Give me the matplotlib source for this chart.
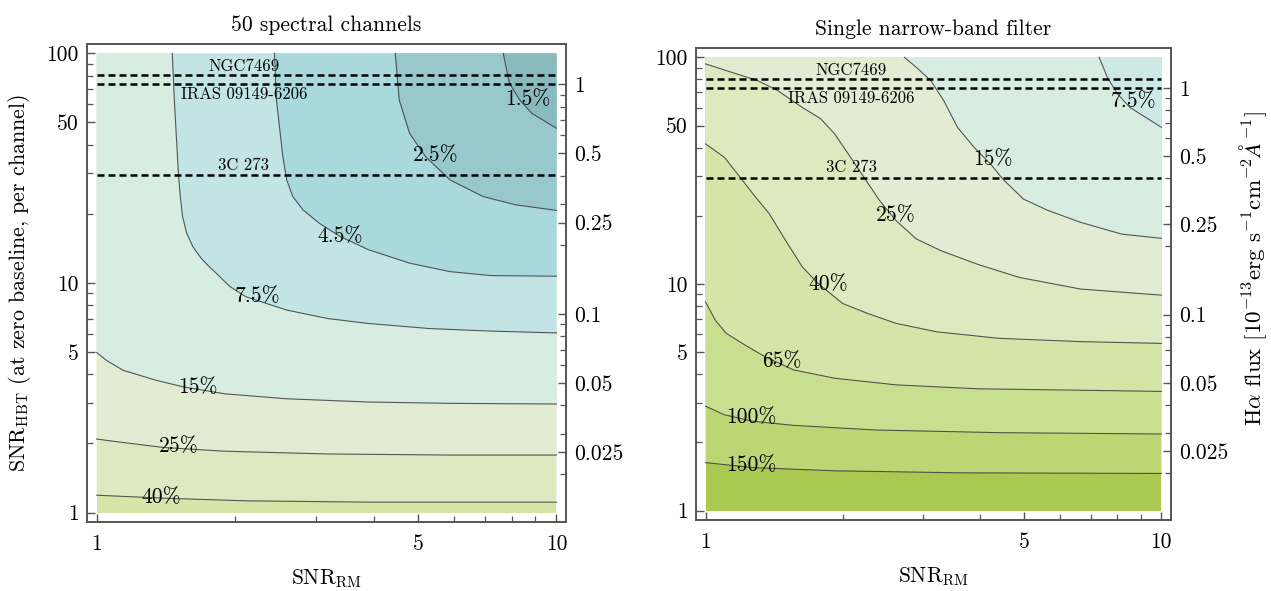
import matplotlib
matplotlib.use('Agg')
import matplotlib.pyplot as plt
from matplotlib.patches import Polygon
from matplotlib.ticker import NullFormatter

plt.rcParams['font.family'] = 'serif'
plt.rcParams['font.serif'] = ['cmr10', 'DejaVu Serif']
plt.rcParams['mathtext.fontset'] = 'cm'
plt.rcParams['axes.unicode_minus'] = False
plt.rcParams['axes.formatter.use_mathtext'] = True

# ---- data ----
# Halpha flux (1e-13 erg/s/cm2/A) that gives SNR_HBT = 1
FLUX_PER_SNR = 1 / 73.3

sources = ['NGC7469', 'IRAS 09149-6206', '3C 273']
source_snr = [80.5, 73.2, 29.4]
source_label_x = [2.09, 2.09, 2.09]
source_label_y = [88.0, 66.0, 32.6]

# left panel: 50 spectral channels
chan_levels = [1.5, 2.5, 4.5, 7.5, 15, 25, 40]
chan_curves = [
    ([7.66, 7.90, 8.32, 8.84, 10], [100, 74.2, 62.7, 54.8, 47.2]),
    ([4.46, 4.55, 4.79, 5.19, 5.87, 6.92, 8.15, 10],
     [100, 62.7, 44.9, 35.5, 28.1, 23.8, 21.9, 20.7]),
    ([2.436, 2.46, 2.54, 2.59, 2.67, 2.81, 3.05, 3.38, 3.90, 4.79, 5.87, 7.2, 10],
     [100, 62.7, 35.5, 28.1, 23.8, 20.8, 18.2, 15.96, 13.96, 12.2, 11.2, 10.77, 10.7]),
    ([1.46, 1.475, 1.506, 1.52, 1.537, 1.569, 1.618, 1.685, 1.755, 1.848, 1.944, 2.11,
      2.59, 3.18, 3.90, 5.3, 7.2, 10],
     [100, 62.7, 29.6, 23.8, 19.5, 16.5, 14.4, 12.85, 11.8, 10.7, 9.68, 8.71,
      7.62, 7.0, 6.66, 6.33, 6.17, 6.06]),
    ([1, 1.05, 1.14, 1.345, 1.55, 1.9, 2.59, 3.9, 5.87, 10],
     [4.98, 4.6, 4.17, 3.77, 3.52, 3.29, 3.13, 3.03, 2.99, 2.97]),
    ([1, 1.14, 1.40, 1.9, 3.18, 5.87, 10], [2.09, 2.02, 1.92, 1.85, 1.80, 1.78, 1.78]),
    ([1, 1.40, 2.11, 3.9, 10], [1.19, 1.155, 1.125, 1.11, 1.11]),
]
chan_label_x = [8.67, 5.47, 3.38, 2.24, 1.66, 1.51, 1.38]
chan_label_y = [63.2, 35.8, 15.96, 8.71, 3.5, 1.94, 1.17]
chan_colors = ['#89babe', '#98c8cc', '#a9d9dd', '#c2e4e4', '#d7ede2',
               '#e1ecd3', '#dde9c0', '#d8e5a9']

# right panel: single narrow-band filter
nb_levels = [7.5, 15, 25, 40, 65, 100, 150]
nb_curves = [
    ([7.3, 7.61, 8.01, 8.53, 10], [100, 81.6, 68.9, 60.1, 49.1]),
    ([2.73, 2.90, 3.12, 3.33, 3.57, 3.88, 4.22, 4.49, 4.98, 5.64, 6.65, 8.18, 10],
     [100, 90.3, 78.9, 64.4, 49.1, 40.1, 33.8, 29.0, 23.7, 21.1, 18.7, 16.6, 15.9]),
    ([1, 1.14, 1.30, 1.44, 1.63, 1.79, 1.92, 2.08, 2.24, 2.41, 2.62, 2.90, 3.29, 3.96, 4.87, 6.65, 10],
     [93.5, 85.9, 78.9, 71.3, 60.1, 53.5, 45.9, 36.2, 29.0, 23.3, 19.0, 15.8, 14.0, 12.2, 10.7, 9.5, 8.93]),
    ([1, 1.10, 1.19, 1.27, 1.38, 1.50, 1.63, 1.77, 2.0, 2.27, 2.62, 3.22, 4.40, 6.65, 10],
     [41.5, 36.2, 29.6, 25.0, 20.4, 15.5, 11.9, 10, 8.2, 7.41, 6.7, 6.15, 5.76, 5.57, 5.47]),
    ([1, 1.05, 1.11, 1.22, 1.35, 1.56, 1.92, 2.62, 3.96, 6.65, 10],
     [8.34, 6.93, 6.06, 5.38, 4.78, 4.18, 3.84, 3.59, 3.45, 3.40, 3.36]),
    ([1, 1.10, 1.27, 1.56, 2.36, 4.40, 10], [2.89, 2.65, 2.48, 2.38, 2.27, 2.21, 2.18]),
    ([1, 1.27, 1.92, 3.57, 10], [1.63, 1.55, 1.50, 1.47, 1.46]),
]
nb_label_x = [8.67, 4.26, 2.62, 1.86, 1.47, 1.26, 1.26]
nb_label_y = [63.7, 35.6, 20.0, 10.0, 4.55, 2.57, 1.59]
nb_colors = ['#cde9e5', '#d8ede1', '#e1ecd2', '#dde9be', '#d4e5a7',
             '#c9df90', '#bbd672', '#aac951']

snr_ticks = [1, 5, 10, 50, 100]
snr_minor = [2, 3, 4, 6, 7, 8, 9, 20, 30, 40, 60, 70, 80, 90]
rm_ticks = [1, 5, 10]
rm_minor = [2, 3, 4, 6, 7, 8, 9]
flux_ticks = [0.025, 0.05, 0.1, 0.25, 0.5, 1]
flux_labels = ['0.025', '0.05', '0.1', '0.25', '0.5', '1']
flux_minor = [0.02, 0.03, 0.04, 0.06, 0.07, 0.08, 0.09, 0.2, 0.3, 0.4, 0.6, 0.7, 0.8, 0.9]

FS = 15.5
FRAME = '#555555'


def draw_panel(ax, levels, curves, colors, lab_x, lab_y, title):
    xa, xb, ya, yb = 1, 10, 1, 100
    ax.set_xscale('log')
    ax.set_yscale('log')
    ax.add_patch(Polygon([(xa, ya), (xb, ya), (xb, yb), (xa, yb)],
                         closed=True, fc=colors[-1], ec='none'))
    for i in range(len(levels) - 1, -1, -1):
        cx, cy = curves[i]
        pts = list(zip(cx, cy)) + [(xb, yb)]
        if cx[0] == xa and cy[0] < yb:
            pts.append((xa, yb))
        ax.add_patch(Polygon(pts, closed=True, fc=colors[i], ec='none'))
    for cx, cy in curves:
        ax.plot(cx, cy, color='#3c3c3c', lw=0.8, alpha=0.85)
    for lvl, lx, ly in zip(levels, lab_x, lab_y):
        ax.text(lx, ly, f'{lvl:g}%', fontsize=FS, ha='center', va='center')

    for name, s, tx, ty in zip(sources, source_snr, source_label_x, source_label_y):
        ax.plot([xa, xb], [s, s], color='black', lw=1.8, dashes=(2.8, 1.6))
        ax.text(tx, ty, name, fontsize=12, ha='center', va='center')

    pad_x, pad_y = 0.021, 0.041
    ax.set_xlim(xa * 10 ** -pad_x, xb * 10 ** pad_x)
    ax.set_ylim(ya * 10 ** -pad_y, yb * 10 ** pad_y)

    ax.set_xticks(rm_ticks, labels=[str(t) for t in rm_ticks])
    ax.set_xticks(rm_minor, minor=True)
    ax.set_yticks(snr_ticks, labels=[str(t) for t in snr_ticks])
    ax.set_yticks(snr_minor, minor=True)
    ax.xaxis.set_minor_formatter(NullFormatter())
    ax.yaxis.set_minor_formatter(NullFormatter())
    ax.tick_params(which='both', direction='in', top=False, right=False,
                   color=FRAME, labelsize=FS)
    ax.tick_params(which='major', length=6, width=1, pad=6)
    ax.tick_params(which='minor', length=4, width=0.9)
    ax.tick_params(axis='x', which='major', pad=9)
    for sp in ax.spines.values():
        sp.set_color(FRAME)
        sp.set_linewidth(1.2)

    ax.set_xlabel(r'SNR$_{\rm RM}$', fontsize=FS)
    ax.xaxis.set_label_coords(0.5, -0.095)
    ax.set_title(title, fontsize=FS, pad=9)

    ax2 = ax.twinx()
    ax2.set_yscale('log')
    lo, hi = ax.get_ylim()
    ax2.set_ylim(lo * FLUX_PER_SNR, hi * FLUX_PER_SNR)
    ax2.set_yticks(flux_ticks, labels=flux_labels)
    ax2.set_yticks(flux_minor, minor=True)
    ax2.yaxis.set_minor_formatter(NullFormatter())
    ax2.tick_params(which='both', direction='in', color=FRAME, labelsize=FS)
    ax2.tick_params(which='major', length=6, width=1, pad=6)
    ax2.tick_params(which='minor', length=4, width=0.9)
    for sp in ax2.spines.values():
        sp.set_color(FRAME)
        sp.set_linewidth(1.2)
    return ax2


fig = plt.figure(figsize=(12.71, 5.91), dpi=100)
ax_l = fig.add_axes([0.0685, 0.1168, 0.3769, 0.8088])
ax_r = fig.add_axes([0.5476, 0.1201, 0.3737, 0.7987])

draw_panel(ax_l, chan_levels, chan_curves, chan_colors, chan_label_x, chan_label_y,
           '50 spectral channels')
ax_l.set_ylabel(r'SNR$_{\rm HBT}$ (at zero baseline, per channel)', fontsize=15.8)
ax_l.yaxis.set_label_coords(-0.112, 0.5)

ax2_r = draw_panel(ax_r, nb_levels, nb_curves, nb_colors, nb_label_x, nb_label_y,
                   'Single narrow-band filter')
ax2_r.set_ylabel(r'H$\alpha$ flux [$10^{-13}$erg s$^{-1}$cm$^{-2}\AA^{-1}$]', fontsize=16.6)
ax2_r.yaxis.set_label_coords(1.14, 0.534)

fig.savefig('out.png', dpi=100)
